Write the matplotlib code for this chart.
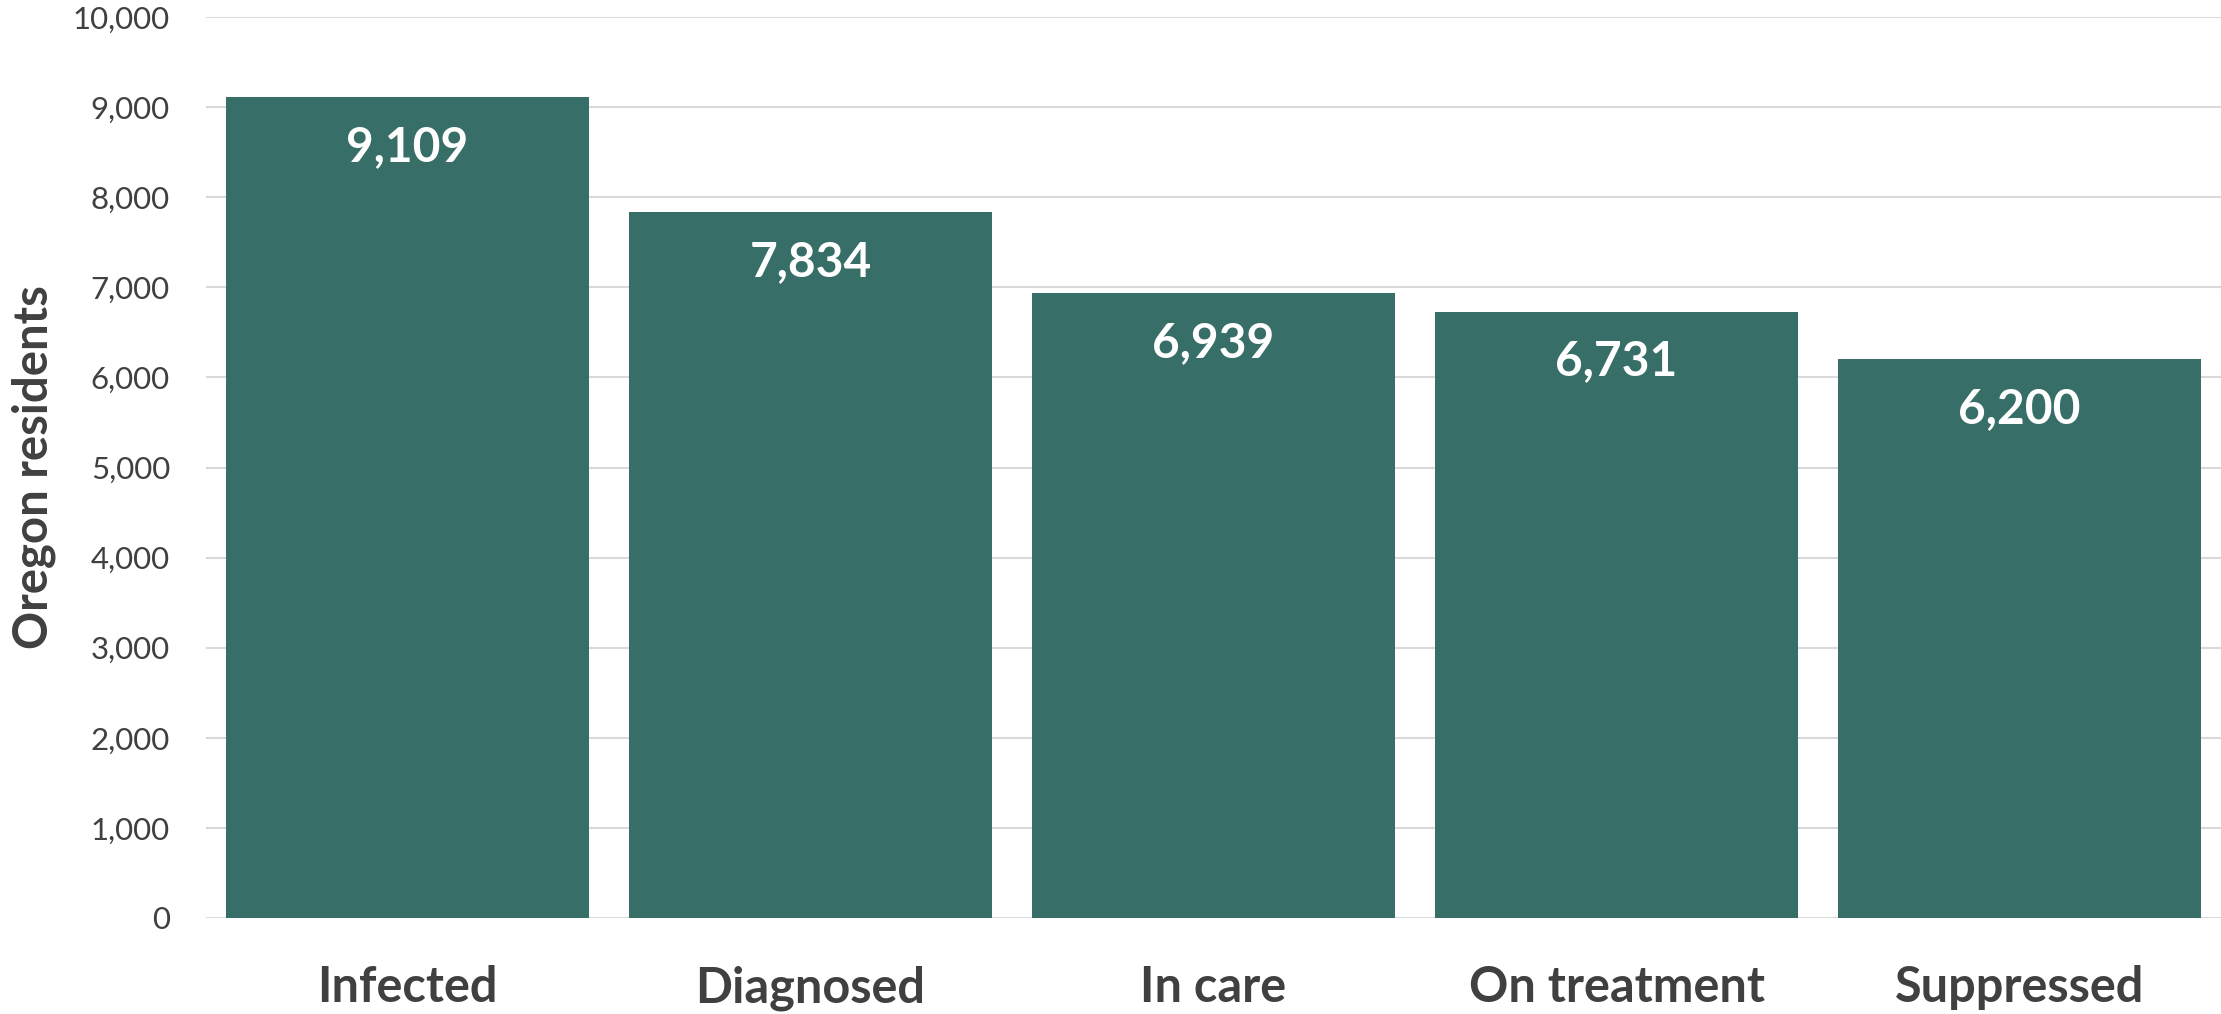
import matplotlib.pyplot as plt
from matplotlib.ticker import FuncFormatter

stages = ["Infected", "Diagnosed", "In care", "On treatment", "Suppressed"]
residents = [9109, 7834, 6939, 6731, 6200]
y_ticks = [0, 1000, 2000, 3000, 4000, 5000, 6000, 7000, 8000, 9000, 10000]

bar_color = "#376E68"
text_color = "#404040"

plt.rcParams['font.family'] = ['Lato', 'DejaVu Sans']

fig = plt.figure(figsize=(22.21, 10.14), dpi=100)
ax = fig.add_axes([0.0928, 0.0947, 0.9072, 0.8885])

x = range(len(stages))
bars = ax.bar(x, residents, width=0.9, color=bar_color, zorder=2)

for rect, val in zip(bars, residents):
    ax.annotate(f"{val:,}", (rect.get_x() + rect.get_width() / 2, val),
                xytext=(0, -36), textcoords="offset points",
                ha="center", va="center", color="white",
                fontsize=34.5, fontweight="bold")

ax.set_xlim(-0.5, len(stages) - 0.5)
ax.set_ylim(0, 10000)
ax.set_yticks(y_ticks)
ax.yaxis.set_major_formatter(FuncFormatter(lambda v, p: f"{int(v):,}"))
ax.set_xticks(list(x))
ax.set_xticklabels(stages, fontsize=35, fontweight="bold", color=text_color)

ax.tick_params(axis="y", length=0, pad=26, labelsize=22.5, labelcolor=text_color)
ax.tick_params(axis="x", length=0, pad=34)

ax.grid(axis="y", color="#D9D9D9", linewidth=1.5, zorder=0)
for side in ax.spines.values():
    side.set_visible(False)

ax.set_ylabel("Oregon residents", fontsize=34, fontweight="bold",
              color=text_color, labelpad=12)

fig.savefig("out.png", dpi=100)
